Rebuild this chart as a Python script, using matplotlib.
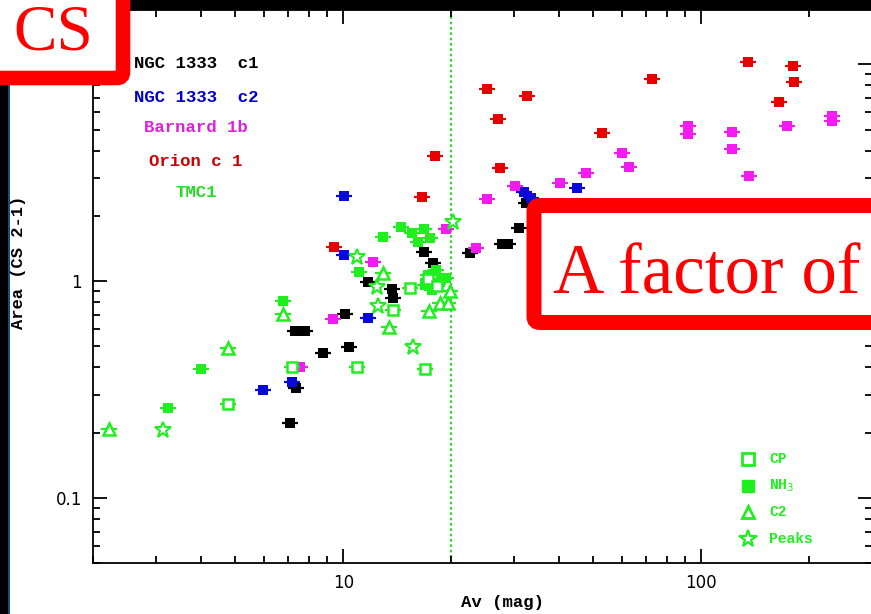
import matplotlib
matplotlib.use("Agg")
import matplotlib.pyplot as plt
import matplotlib.patches as mpatches
from matplotlib.transforms import Affine2D
from matplotlib.lines import Line2D
from matplotlib.ticker import LogLocator, NullFormatter, FixedLocator, FixedFormatter

# ---- data: Av (mag) vs integrated area of CS 2-1 ----
ngc1333_c1_av = [7.34, 7.83, 10.1, 10.4, 8.79, 7.39, 7.11, 11.7, 13.7, 13.8, 16.8, 17.8, 22.6, 31.0, 27.8, 28.9, 32.4]
ngc1333_c1_area = [0.588, 0.588, 0.704, 0.496, 0.466, 0.321, 0.221, 0.99, 0.918, 0.835, 1.37, 1.21, 1.35, 1.76, 1.48, 1.48, 2.29]

ngc1333_c2_av = [10.06, 10.06, 11.7, 5.98, 7.21, 32.0, 33.5, 45.1, 43.1]
ngc1333_c2_area = [2.47, 1.32, 0.675, 0.314, 0.342, 2.57, 2.42, 2.69, 2.29]

barnard1b_av = [47.7, 60.2, 62.9, 92.0, 92.0, 122, 122, 136, 174, 232, 232, 40.4, 30.2, 25.2, 19.4, 23.5, 12.1, 9.38, 7.59]
barnard1b_area = [3.15, 3.90, 3.36, 5.19, 4.77, 4.87, 4.06, 3.05, 5.19, 5.77, 5.47, 2.83, 2.74, 2.39, 1.74, 1.42, 1.22, 0.668, 0.401]

orion_c1_av = [25.2, 32.7, 27.1, 18.1, 27.4, 16.6, 9.44, 73.0, 52.9, 135, 180.6, 182, 165]
orion_c1_area = [7.69, 7.14, 5.59, 3.78, 3.32, 2.44, 1.44, 8.55, 4.82, 10.25, 9.82, 8.28, 6.70]

tmc1_cp_av = [4.77, 7.21, 10.9, 13.8, 15.4, 16.9, 17.2, 18.3]
tmc1_cp_area = [0.270, 0.401, 0.401, 0.735, 0.929, 0.393, 1.02, 0.95]

tmc1_nh3_av = [3.25, 4.01, 6.80, 11.1, 12.9, 14.5, 15.6, 16.8, 17.5, 16.2, 17.3, 18.2, 18.7, 16.9, 19.4, 17.7]
tmc1_nh3_area = [0.259, 0.393, 0.809, 1.10, 1.60, 1.77, 1.66, 1.74, 1.58, 1.51, 1.07, 1.12, 1.01, 0.96, 1.03, 0.91]

tmc1_c2_av = [2.22, 4.77, 6.80, 12.9, 13.4, 17.4, 18.6, 19.6, 19.9]
tmc1_c2_area = [0.2075, 0.491, 0.704, 1.09, 0.614, 0.727, 0.792, 0.79, 0.90]

tmc1_peaks_av = [3.14, 10.9, 12.4, 12.5, 15.7, 20.3]
tmc1_peaks_area = [0.205, 1.29, 0.94, 0.767, 0.496, 1.87]

av_threshold = 20.0

x_ticks = [10, 100]
x_ticklabels = ["10", "100"]
y_ticks = [0.1, 1, 10]
y_ticklabels = ["0.1", "1", ""]

legend_names = ["NGC 1333  c1", "NGC 1333  c2", "Barnard 1b", "Orion c 1", "TMC1"]
legend_colors = ["#000000", "#0000c8", "#dd22dd", "#cc0000", "#22dd22"]
marker_names = ["CP", "NH$_3$", "C2", "Peaks"]

BLACK, BLUE, MAGENTA, RED, GREEN = "#000000", "#0a0ad8", "#f21cf2", "#e80000", "#1fee1f"

W, H = 871, 614
fig = plt.figure(figsize=(W / 100, H / 100), dpi=100, facecolor="white")
# pixel coordinates with origin at the top-left corner
PX = Affine2D().scale(1, -1).translate(0, H).scale(1 / fig.dpi) + fig.dpi_scale_trans

ax = fig.add_axes([93 / W, 1 - 563.3 / H, 779 / W, 553.3 / H])
ax.set_xscale("log")
ax.set_yscale("log")
ax.set_xlim(2.0, 300)
ax.set_ylim(0.05, 17.8)

ax.axvline(av_threshold, color="#3fcf3f", ls=(0, (1.2, 1.2)), lw=1.6, zorder=1)

BAR_MS = 11.5
SQ_MS = 7.5


def solid(xs, ys, color):
    ax.plot(xs, ys, ls="none", marker="_", ms=BAR_MS, mew=1.6, color=color, zorder=3)
    ax.plot(xs, ys, ls="none", marker="s", ms=SQ_MS, mew=0, color=color, zorder=3)


solid(ngc1333_c1_av, ngc1333_c1_area, BLACK)
solid(ngc1333_c2_av, ngc1333_c2_area, BLUE)
solid(barnard1b_av, barnard1b_area, MAGENTA)
solid(orion_c1_av, orion_c1_area, RED)

# TMC1 cuts
solid(tmc1_nh3_av, tmc1_nh3_area, GREEN)
ax.plot(tmc1_cp_av, tmc1_cp_area, ls="none", marker="_", ms=BAR_MS, mew=1.6, color=GREEN, zorder=3)
ax.plot(tmc1_cp_av, tmc1_cp_area, ls="none", marker="s", ms=7, mew=1.8, mfc="white", mec=GREEN, zorder=3)
ax.plot(tmc1_c2_av, tmc1_c2_area, ls="none", marker="_", ms=BAR_MS, mew=1.6, color=GREEN, zorder=3)
ax.plot(tmc1_c2_av, tmc1_c2_area, ls="none", marker="^", ms=8, mew=1.8, mfc="white", mec=GREEN, zorder=3)
ax.plot(tmc1_peaks_av, tmc1_peaks_area, ls="none", marker="*", ms=12, mew=1.5, mfc="white", mec=GREEN, zorder=3)

# ticks: inward on all four sides
ax.xaxis.set_major_locator(FixedLocator(x_ticks))
ax.xaxis.set_major_formatter(FixedFormatter(x_ticklabels))
ax.yaxis.set_major_locator(FixedLocator(y_ticks))
ax.yaxis.set_major_formatter(FixedFormatter(y_ticklabels))
ax.xaxis.set_minor_locator(LogLocator(base=10, subs=range(2, 10)))
ax.yaxis.set_minor_locator(LogLocator(base=10, subs=range(2, 10)))
ax.xaxis.set_minor_formatter(NullFormatter())
ax.yaxis.set_minor_formatter(NullFormatter())
ax.tick_params(which="both", direction="in", top=True, right=True, color="black", width=1.3)
ax.tick_params(which="major", length=10, labelsize=12, pad=8)
ax.tick_params(which="minor", length=5)
for s in ax.spines.values():
    s.set_linewidth(1.3)

fig.text(502 / W, 1 - 603 / H, "Av (mag)", ha="center", va="center",
         family="Liberation Mono", weight="bold", fontsize=12.5)
fig.text(18 / W, 1 - 262 / H, "Area (CS 2-1)", ha="center", va="center", rotation=90,
         family="Liberation Mono", weight="bold", fontsize=12.3)

# source legend, upper left
for name, col, yp in zip(legend_names, legend_colors, [63, 97, 128, 161, 193]):
    fig.text(196 / W, 1 - yp / H, name, ha="center", va="center", color=col,
             family="Liberation Mono", weight="bold", fontsize=12.5)

# marker legend, lower right
leg_y = [459, 486, 512, 539]
leg_handles = [
    dict(marker="s", ms=8, mfc="white", mec=GREEN, mew=2),
    dict(marker="s", ms=9, mfc=GREEN, mec=GREEN, mew=1),
    dict(marker="^", ms=9, mfc="white", mec=GREEN, mew=2),
    dict(marker="*", ms=13, mfc="white", mec=GREEN, mew=1.6),
]
for name, yp, kw in zip(marker_names, leg_y, leg_handles):
    fig.add_artist(Line2D([748], [yp], ls="none", transform=PX, color=GREEN, **kw))
    fig.text(769 / W, 1 - yp / H, name, ha="left", va="center", color=GREEN,
             family="Liberation Mono", weight="bold", fontsize=10.5)

# slide frame
fig.add_artist(mpatches.Rectangle((0, 0), 8, H, transform=PX, color="black", lw=0))
fig.add_artist(mpatches.Rectangle((8, 0), 1.5, H, transform=PX, color="#1a4a8a", lw=0))
fig.add_artist(mpatches.Rectangle((0, 0), W, 10, transform=PX, color="black", lw=0))

# callout boxes
fig.add_artist(mpatches.FancyBboxPatch((-40, -40), 163, 118, boxstyle="round,pad=0,rounding_size=6",
                                       transform=PX, fc="white", ec="#ff0000", lw=10.5))
fig.text(53 / W, 1 - 50 / H, "CS", ha="center", va="baseline", color="#ff0000",
         family="Liberation Serif", fontsize=47)

fig.add_artist(mpatches.FancyBboxPatch((534, 205.5), 400, 117, boxstyle="round,pad=0,rounding_size=6",
                                       transform=PX, fc="white", ec="#ff0000", lw=10.8))
fig.text(553 / W, 1 - 293 / H, "A factor of", ha="left", va="baseline", color="#ff0000",
         family="Liberation Serif", fontsize=51)

fig.savefig("out.png", dpi=100, facecolor="white")
